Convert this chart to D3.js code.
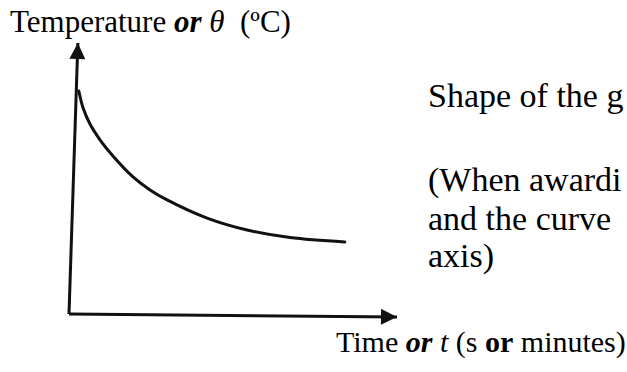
<!DOCTYPE html>
<html>
<head>
<meta charset="utf-8">
<script src="https://cdn.jsdelivr.net/npm/d3@7"></script>
<style>
  body { margin: 0; background: #fff; }
  svg { display: block; }
  text { font-family: "Liberation Serif", "Times New Roman", serif; fill: #000; white-space: pre; }
</style>
</head>
<body>
<div id="chart"></div>
<script>
// cooling curve (arbitrary units 0..10)
const timeValues = [0.30, 0.43, 0.64, 0.95, 1.34, 1.95, 2.47, 2.99, 4.21, 5.43, 6.74, 8.41];
const tempValues = [8.23, 7.60, 7.01, 6.42, 5.83, 5.06, 4.58, 4.21, 3.54, 3.10, 2.82, 2.66];

// axis ends (the hand drawn y axis leans a little to the right)
const yAxisEnds = [[0, 0], [0.27, 10]];
const xAxisEnds = [[0, 0], [10, -0.11]];

const noteLines = ["Shape of the g", "(When awardi", "and the curve", "axis)"];
const noteBaselines = [107, 191, 230, 267];

function drawCoolingSketch(target) {
    const width = 627, height = 372;

    // scales
    const x = d3.scaleLinear().domain([0, 10]).range([69, 397]);
    const y = d3.scaleLinear().domain([0, 10]).range([314, 43]);

    const svg = d3.select(target).append("svg")
        .attr("width", width)
        .attr("height", height);

    const defs = svg.append("defs");
    defs.append("marker")
        .attr("id", "arrow")
        .attr("viewBox", "0 0 10 10")
        .attr("refX", 10)
        .attr("refY", 5)
        .attr("markerUnits", "userSpaceOnUse")
        .attr("markerWidth", 17)
        .attr("markerHeight", 16)
        .attr("orient", "auto")
        .append("path")
        .attr("d", "M0,0L10,5L0,10Z")
        .style("fill", "#111");

    const line = d3.line()
        .x(function(d) { return x(d[0]); })
        .y(function(d) { return y(d[1]); });

    // axes with arrow heads
    [yAxisEnds, xAxisEnds].forEach(function(ends) {
        svg.append("path")
            .attr("d", line(ends))
            .style("fill", "none")
            .style("stroke", "#111")
            .style("stroke-width", 3)
            .attr("marker-end", "url(#arrow)");
    });

    // the curve
    const curve = d3.line()
        .x(function(d) { return x(d.t); })
        .y(function(d) { return y(d.v); })
        .curve(d3.curveCatmullRom.alpha(0.5));

    const points = timeValues.map(function(t, i) { return {t: t, v: tempValues[i]}; });

    svg.append("path")
        .attr("d", curve(points))
        .style("fill", "none")
        .style("stroke", "#111")
        .style("stroke-width", 3)
        .style("stroke-linecap", "round");

    // y axis title
    const yTitle = svg.append("text")
        .attr("x", 10)
        .attr("y", 32)
        .style("font-size", "31px");
    yTitle.append("tspan").text("Temperature ");
    yTitle.append("tspan").style("font-weight", "bold").style("font-style", "italic").text("or");
    yTitle.append("tspan").style("font-style", "italic").text(" \u03B8");
    yTitle.append("tspan").text("  (\u00BAC)");

    // x axis title
    const xTitle = svg.append("text")
        .attr("x", 336)
        .attr("y", 352)
        .style("font-size", "30px");
    xTitle.append("tspan").text("Time ");
    xTitle.append("tspan").style("font-weight", "bold").style("font-style", "italic").text("or");
    xTitle.append("tspan").style("font-style", "italic").text(" t");
    xTitle.append("tspan").text(" (s ");
    xTitle.append("tspan").style("font-weight", "bold").text("or");
    xTitle.append("tspan").text(" minutes)");

    // marking notes on the right
    svg.selectAll(".note")
        .data(noteLines)
        .enter().append("text")
        .attr("class", "note")
        .attr("x", 428)
        .attr("y", function(d, i) { return noteBaselines[i]; })
        .style("font-size", "34px")
        .text(function(d) { return d; });
}

drawCoolingSketch("#chart");
</script>
</body>
</html>
